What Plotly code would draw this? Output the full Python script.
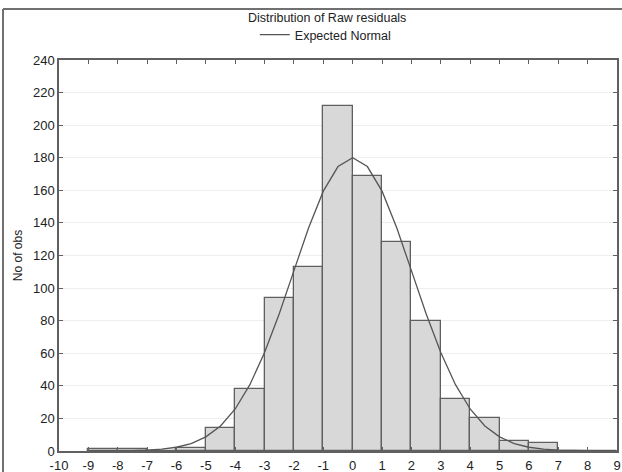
import plotly.graph_objects as go

# Histogram bins (left edges, width 1) and counts
bin_left = [-9, -8, -7, -6, -5, -4, -3, -2, -1, 0, 1, 2, 3, 4, 5, 6, 7, 8]
counts   = [1, 1, 0, 2, 14, 38, 94, 113, 212, 169, 128, 80, 32, 20, 6, 5, 0, 0]

# Expected normal curve
curve_x = [-9, -8.5, -8, -7.5, -7, -6.5, -6, -5.5, -5, -4.5, -4, -3.5, -3, -2.5, -2, -1.5, -1, -0.5,
           0, 0.5, 1, 1.5, 2, 2.5, 3, 3.5, 4, 4.5, 5, 5.5, 6, 6.5, 7, 7.5, 8, 8.5, 9]
curve_y = [0, 0, 0.1, 0.2, 0.5, 1.1, 2.3, 4.6, 8.7, 15.4, 25.8, 40.7, 60.5, 84.3, 110.7, 137, 159.5, 174.6,
           180, 174.6, 159.5, 137, 110.7, 84.3, 60.5, 40.7, 25.8, 15.4, 8.7, 4.6, 2.3, 1.1, 0.5, 0.2, 0.1, 0, 0]

x_ticks = list(range(-10, 10))
x_tick_labels = [str(v) for v in x_ticks]
y_ticks = list(range(0, 241, 20))

bin_centers = [b + 0.5 for b in bin_left]

fig = go.Figure()
fig.add_trace(go.Bar(
    x=bin_centers, y=counts, width=1,
    marker=dict(color="#d8d8d8", line=dict(color="#5f5f5f", width=1.3)),
    showlegend=False, hoverinfo="x+y",
))
fig.add_trace(go.Scatter(
    x=curve_x, y=curve_y, mode="lines", name="Expected Normal",
    line=dict(color="#555555", width=1.3),
))

axis_common = dict(
    showline=True, linecolor="#606060", linewidth=1.5, mirror="ticks",
    ticks="inside", ticklen=4, tickcolor="#606060", tickwidth=1,
    tickfont=dict(family="Liberation Sans, Arial", size=13, color="#222222"),
    zeroline=False, automargin=False,
)

fig.update_layout(
    width=622, height=472,
    margin=dict(l=59, r=5, t=60, b=21),
    paper_bgcolor="white", plot_bgcolor="white",
    font=dict(family="Liberation Sans, Arial", size=12, color="#222222"),
    title=dict(text="Distribution of Raw residuals", x=0.526, xanchor="center",
               y=1 - 18 / 472, yanchor="middle", xref="container", yref="container",
               font=dict(size=12.5, color="#222222")),
    legend=dict(orientation="h", x=0.523, xanchor="center", y=1 - 35 / 472, yanchor="middle",
                xref="container", yref="container", bgcolor="rgba(0,0,0,0)",
                font=dict(size=12.5, color="#222222"), itemwidth=30),
    bargap=0,
    xaxis=dict(range=[-10, 9], tickvals=x_ticks, ticktext=x_tick_labels, showgrid=False,
               ticklabelstandoff=2, **axis_common),
    yaxis=dict(range=[0, 240], tickvals=y_ticks, showgrid=True, gridcolor="#eeeeee", gridwidth=1,
               title=dict(text="No of obs", font=dict(size=12, color="#222222"), standoff=8),
               **axis_common),
    shapes=[
        dict(type="line", xref="paper", yref="paper",
             x0=(3 - 59) / 558, x1=(3 - 59) / 558, y0=(451 - 480) / 391, y1=(451 - 9) / 391,
             line=dict(color="#707070", width=2)),
        dict(type="line", xref="paper", yref="paper",
             x0=(3 - 59) / 558, x1=(640 - 59) / 558, y0=(451 - 9) / 391, y1=(451 - 9) / 391,
             line=dict(color="#707070", width=2)),
    ],
)

fig.write_html("out.html", config={"displayModeBar": False})

# remove the default page margin so the figure sits at the window's top-left corner
with open("out.html", "r", encoding="utf-8") as f:
    html = f.read()
html = html.replace("<body>", '<body style="margin:0;padding:0;overflow:hidden">', 1)
with open("out.html", "w", encoding="utf-8") as f:
    f.write(html)
